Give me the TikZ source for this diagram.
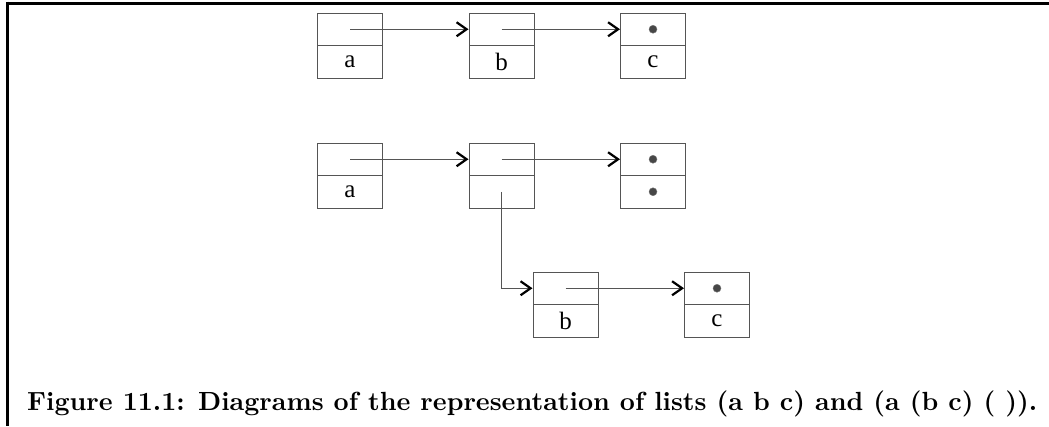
\documentclass[tikz,border=0pt]{standalone}
\usepackage{fontspec}
\newfontfamily\tnr{Liberation Serif}
\usetikzlibrary{arrows.meta}
\definecolor{boxgray}{HTML}{555555}
\tikzset{
  half/.style={draw=boxgray, line width=1pt, minimum width=65pt, minimum height=32.5pt, inner sep=0pt, font=\tnr\fontsize{25}{25}\selectfont},
  arr/.style={draw=boxgray, line width=1pt, -{Straight Barb[length=10pt,width=14pt,line width=2.2pt,color=black]}},
  dot/.style={circle, fill=black!72, draw=black!55, inner sep=0pt, minimum size=8pt},
  frame/.style={line width=3pt, black}
}
\begin{document}
\begin{tikzpicture}[x=1pt,y=-1pt]
\useasboundingbox (0,0) rectangle (1049,426);
% frame
\draw[frame] (6,3) -- (1049,3);
\draw[frame] (7.5,1.5) -- (7.5,426);

% row 1: (a b c)
\node[half] (a1t) at (350,29.25) {};
\node[half] (a1b) at (350,61.75) {a};
\node[half] (b1t) at (501.5,29.25) {};
\node[half] (b1b) at (501.5,61.75) {b};
\node[half] (c1t) at (653,29.25) {};
\node[half] (c1b) at (653,61.75) {c};
\node[dot] (c1d) at (c1t.center) {};
\draw[arr] (a1t.center) -- (b1t.west);
\draw[arr] (b1t.center) -- (c1t.west);

% row 2: (a (b c) ())
\node[half] (a2t) at (350,159.25) {};
\node[half] (a2b) at (350,191.75) {a};
\node[half] (m2t) at (501.5,159.25) {};
\node[half] (m2b) at (501.5,191.75) {};
\node[half] (n2t) at (653,159.25) {};
\node[half] (n2b) at (653,191.75) {};
\node[dot] (n2d1) at (n2t.center) {};
\node[dot] (n2d2) at (n2b.center) {};
\draw[arr] (a2t.center) -- (m2t.west);
\draw[arr] (m2t.center) -- (n2t.west);

% row 3: (b c)
\node[half] (b3t) at (565.5,288.25) {};
\node[half] (b3b) at (565.5,320.75) {b};
\node[half] (c3t) at (717,288.25) {};
\node[half] (c3b) at (717,320.75) {c};
\node[dot] (c3d) at (c3t.center) {};
\draw[arr] (m2b.center) |- (b3t.west);
\draw[arr] (b3t.center) -- (c3t.west);

% caption
\node[anchor=base west, inner sep=0pt] (cap) at (27,410) {\resizebox{1010pt}{!}{\bfseries Figure 11.1: Diagrams of the representation of lists (a b c) and (a (b c) ( )).}};
\end{tikzpicture}
\end{document}
